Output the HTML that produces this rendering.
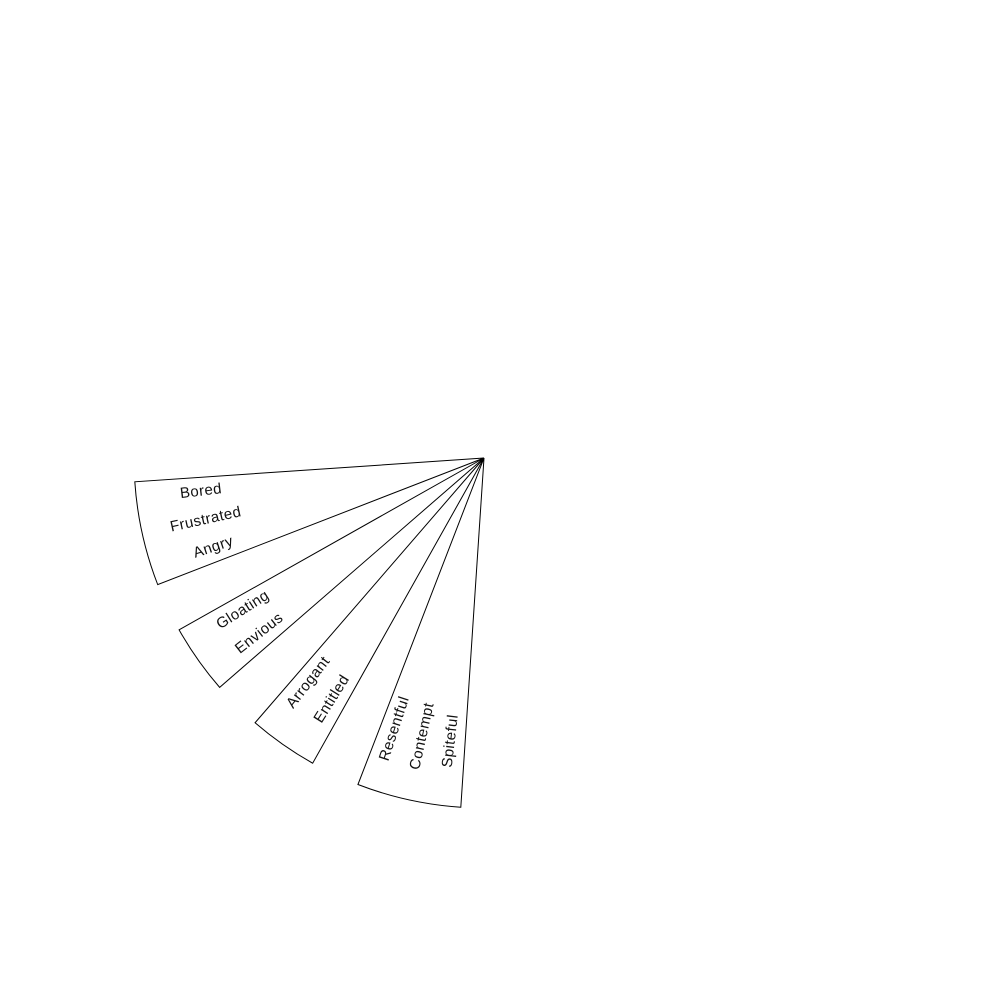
<!DOCTYPE html>
<html><head><meta charset="utf-8"><style>
html,body{margin:0;padding:0;background:#fff;}
svg{display:block;}
text{font-family:"Liberation Sans",sans-serif;font-size:15px;font-weight:300;fill:#111;letter-spacing:0.4px;}
</style></head><body>
<svg id="chart" width="1000" height="1000"></svg>
<script>
const groupNames = ["anger", "envy", "pride", "contempt"];
const groupWords = [
  ["Bored", "Frustrated", "Angry"],
  ["Gloating", "Envious"],
  ["Arrogant", "Entitled"],
  ["Resentful", "Contempt", "Spiteful"]
];
const cx = 484, cy = 458, R = 350, labelR = 285;
const startAngle = 176.1, unitDeg = 5.77, gapDeg = 8.2;
const svg = document.getElementById('chart');
const NS = 'http://www.w3.org/2000/svg';
function pt(a, r) { const t = a * Math.PI / 180; return [cx + r * Math.cos(t), cy + r * Math.sin(t)]; }
let a0 = startAngle;
groupWords.forEach((words, gi) => {
  const n = words.length;
  const a1 = a0 - n * unitDeg;
  const p0 = pt(a0, R), p1 = pt(a1, R);
  const path = document.createElementNS(NS, 'path');
  path.setAttribute('d', `M${cx},${cy} L${p0[0]},${p0[1]} A${R},${R} 0 0 0 ${p1[0]},${p1[1]} Z`);
  path.setAttribute('fill', '#fff');
  path.setAttribute('stroke', '#000');
  path.setAttribute('stroke-width', '1');
  
  
  svg.appendChild(path);
  const mid = (a0 + a1) / 2;
  words.forEach((w, i) => {
    const a = mid + ((n - 1) / 2 - i) * unitDeg;
    const p = pt(a, labelR);
    const t = document.createElementNS(NS, 'text');
    t.setAttribute('x', p[0]);
    t.setAttribute('y', p[1]);
    t.setAttribute('text-anchor', 'middle');
    t.setAttribute('dominant-baseline', 'middle');
    t.setAttribute('transform', `rotate(${a - 180} ${p[0]} ${p[1]})`);
    t.textContent = w;
    
    
    svg.appendChild(t);
  });
  a0 = a1 - gapDeg;
});
</script>
</body></html>
